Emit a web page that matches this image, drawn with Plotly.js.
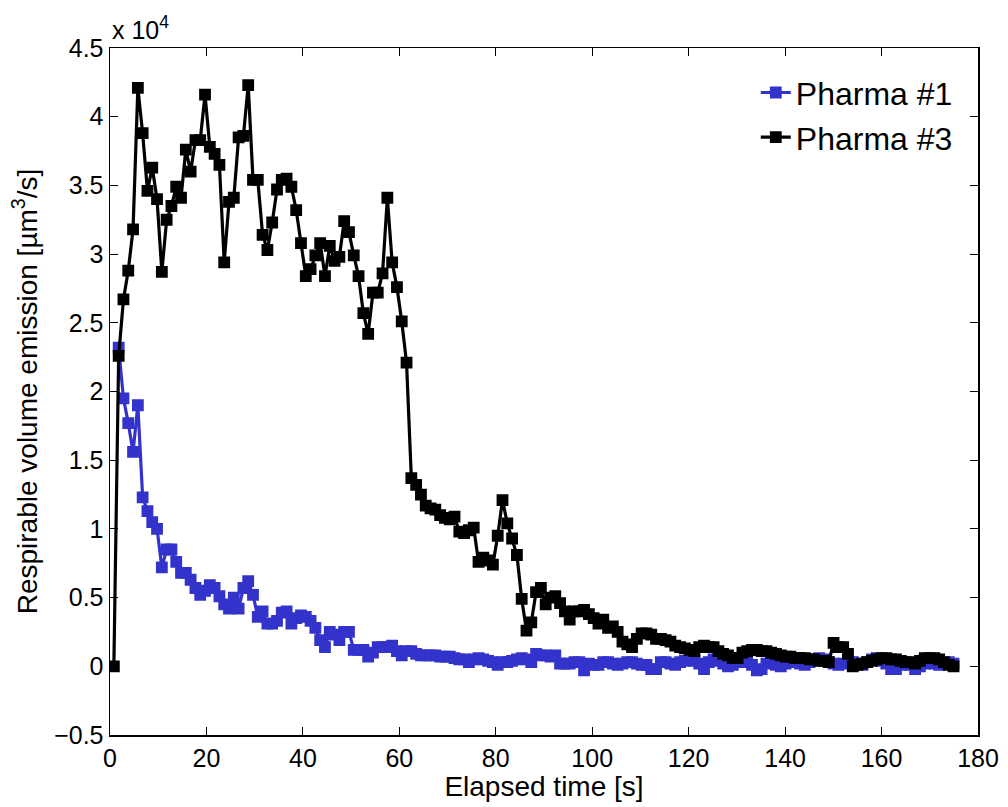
<!DOCTYPE html>
<html>
<head>
<meta charset="utf-8">
<script src="https://cdn.plot.ly/plotly-3.0.1.min.js"></script>
<style>html,body{margin:0;padding:0;background:#fff;}#chart{width:1008px;height:807px;}</style>
</head>
<body>
<div id="chart"></div>
<script>
// Values in units of 1e4 µm^3/s, sampled about once per second
const startTime = 0.8;   // first sample time [s]
const stepTime = 0.995;  // sampling step [s]

const pharma3 = [
  0.00, 2.26, 2.67, 2.88, 3.18, 4.21, 3.88, 3.46, 3.63, 3.40,
  2.87, 3.25, 3.35, 3.49, 3.41, 3.76, 3.60, 3.83, 3.83, 4.16,
  3.78, 3.73, 3.65, 2.94, 3.38, 3.41, 3.85, 3.86, 4.23, 3.54,
  3.54, 3.14, 3.03, 3.23, 3.47, 3.54, 3.55, 3.49, 3.32, 3.08,
  2.84, 2.89, 2.99, 3.08, 2.84, 3.06, 2.95, 2.98, 3.24, 3.16,
  2.99, 2.84, 2.57, 2.42, 2.72, 2.72, 2.86, 3.41, 2.94, 2.76,
  2.51, 2.21, 1.37, 1.32, 1.25, 1.17, 1.15, 1.14, 1.10, 1.08,
  1.07, 1.09, 0.98, 0.97, 0.99, 1.01, 0.76, 0.79, 0.77, 0.74,
  0.95, 1.21, 1.04, 0.93, 0.81, 0.49, 0.26, 0.32, 0.54, 0.57,
  0.45, 0.50, 0.51, 0.46, 0.40, 0.34, 0.40, 0.40, 0.41, 0.38,
  0.35, 0.31, 0.34, 0.28, 0.29, 0.25, 0.18, 0.16, 0.14, 0.20,
  0.24, 0.24, 0.23, 0.20, 0.20, 0.19, 0.18, 0.15, 0.14, 0.13,
  0.12, 0.11, 0.14, 0.15, 0.14, 0.14, 0.11, 0.09, 0.08, 0.06,
  0.06, 0.10, 0.11, 0.12, 0.12, 0.11, 0.11, 0.10, 0.09, 0.08,
  0.07, 0.07, 0.06, 0.06, 0.06, 0.05, 0.05, 0.04, 0.04, 0.03,
  0.17, 0.14, 0.14, 0.09, 0.00, 0.01, 0.02, 0.03, 0.04, 0.05,
  0.06, 0.06, 0.05, 0.05, 0.04, 0.03, 0.03, 0.02, 0.04, 0.06,
  0.06, 0.06, 0.05, 0.03, 0.01, 0.00
];

const pharma1 = [
  null, 2.32, 1.95, 1.77, 1.56, 1.90, 1.23, 1.13, 1.05, 1.00,
  0.72, 0.85, 0.85, 0.76, 0.68, 0.68, 0.63, 0.57, 0.52, 0.55,
  0.59, 0.57, 0.51, 0.45, 0.42, 0.50, 0.42, 0.57, 0.62, 0.52,
  0.36, 0.40, 0.31, 0.31, 0.33, 0.39, 0.40, 0.31, 0.35, 0.37,
  0.36, 0.33, 0.28, 0.19, 0.14, 0.25, 0.23, 0.19, 0.25, 0.25,
  0.12, 0.12, 0.12, 0.07, 0.10, 0.14, 0.14, 0.14, 0.15, 0.11,
  0.08, 0.11, 0.11, 0.09, 0.08, 0.08, 0.08, 0.08, 0.07, 0.07,
  0.07, 0.06, 0.05, 0.05, 0.03, 0.05, 0.06, 0.05, 0.04, 0.03,
  0.01, 0.03, 0.03, 0.04, 0.05, 0.06, 0.05, 0.03, 0.09, 0.08,
  0.08, 0.07, 0.08, 0.02, 0.02, 0.02, 0.03, 0.03, -0.03, 0.02,
  0.01, 0.01, 0.03, 0.03, 0.02, 0.01, 0.02, 0.03, 0.03, 0.02,
  0.01, 0.01, -0.02, -0.02, 0.03, 0.03, 0.02, 0.01, 0.03, 0.04,
  0.05, 0.04, 0.02, -0.02, 0.03, 0.05, 0.04, 0.02, 0.00, 0.01,
  0.03, 0.04, 0.03, 0.01, -0.03, -0.02, 0.02, 0.03, 0.01, 0.00,
  0.02, 0.04, 0.03, 0.02, 0.01, 0.03, 0.05, 0.06, 0.05, 0.03,
  0.02, 0.01, 0.02, 0.04, 0.03, 0.02, 0.01, 0.03, 0.05, 0.06,
  0.04, 0.02, -0.02, -0.02, 0.01, 0.02, 0.01, -0.02, 0.00, 0.02,
  0.03, 0.02, 0.01, 0.02, 0.03, 0.02
];

const xTicks = [0, 20, 40, 60, 80, 100, 120, 140, 160, 180];
const yTicks = [-0.5, 0, 0.5, 1, 1.5, 2, 2.5, 3, 3.5, 4, 4.5];
const yTickText = ['\u22120.5', '0', '0.5', '1', '1.5', '2', '2.5', '3', '3.5', '4', '4.5'];

const time = pharma3.map((_, i) => +(startTime + i * stepTime).toFixed(3));

const FONT = '"Liberation Sans", Arial, Helvetica, sans-serif';
const blue = '#3333cc';

const traces = [
  {
    x: time, y: pharma1, name: 'Pharma #1', type: 'scatter', mode: 'lines+markers',
    line: {color: blue, width: 3.2},
    marker: {symbol: 'square', size: 10, color: blue, line: {color: blue, width: 1.8}},
    connectgaps: false
  },
  {
    x: time, y: pharma3, name: 'Pharma #3', type: 'scatter', mode: 'lines+markers',
    line: {color: '#000000', width: 3.2},
    marker: {symbol: 'square', size: 10, color: '#000000', line: {color: '#000000', width: 1.8}}
  }
];

const axisCommon = {
  showgrid: false, zeroline: false, showline: true, linecolor: '#000', linewidth: 1.5,
  mirror: 'ticks', ticks: 'inside', ticklen: 8, tickwidth: 1, tickcolor: '#000',
  tickfont: {family: FONT, size: 25, color: '#000'}
};

const layout = {
  width: 1008, height: 807,
  paper_bgcolor: '#fff', plot_bgcolor: '#fff',
  margin: {l: 110, r: 30, t: 48, b: 72},
  showlegend: true,
  legend: {
    x: 0.744, y: 0.975, xanchor: 'left', yanchor: 'top',
    bgcolor: 'rgba(255,255,255,0)', borderwidth: 0,
    font: {family: FONT, size: 32, color: '#000'},
    tracegroupgap: 0
  },
  xaxis: Object.assign({}, axisCommon, {
    range: [0, 180], tickvals: xTicks, ticktext: xTicks.map(String),
    title: {text: 'Elapsed time [s]', font: {family: FONT, size: 28, color: '#000'}, standoff: 6},
    automargin: false
  }),
  yaxis: Object.assign({}, axisCommon, {
    range: [-0.5, 4.5], tickvals: yTicks, ticktext: yTickText,
    title: {text: 'Respirable volume emission [\u00b5m<sup>3</sup>/s]', font: {family: FONT, size: 28, color: '#000'}, standoff: 8},
    automargin: false
  }),
  annotations: [{
    xref: 'paper', yref: 'paper', x: 0, y: 1, xanchor: 'left', yanchor: 'bottom',
    text: 'x 10<sup>4</sup>', showarrow: false, yshift: 2,
    font: {family: FONT, size: 25, color: '#000'}
  }]
};

Plotly.newPlot('chart', traces, layout, {displayModeBar: false, staticPlot: true});
</script>
</body>
</html>
